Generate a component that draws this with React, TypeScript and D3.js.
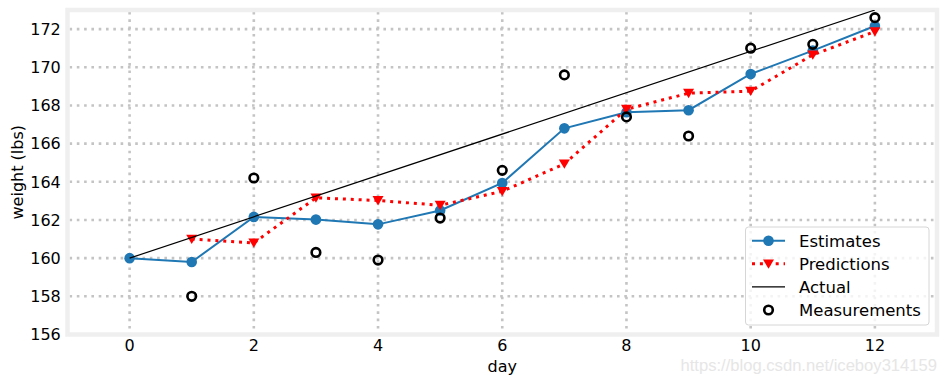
import React from "react";
import * as d3 from "d3";

const days: number[] = [0, 1, 2, 3, 4, 5, 6, 7, 8, 9, 10, 11, 12];
const estimates: number[] = [160, 159.8, 162.16, 162.02, 161.77, 162.5, 163.94, 166.8, 167.64, 167.75, 169.65, 170.87, 172.16];
const predictionDays: number[] = [1, 2, 3, 4, 5, 6, 7, 8, 9, 10, 11, 12];
const predictions: number[] = [161, 160.8, 163.16, 163.02, 162.77, 163.5, 164.94, 167.8, 168.64, 168.75, 170.65, 171.87];
const measurementDays: number[] = [1, 2, 3, 4, 5, 6, 7, 8, 9, 10, 11, 12];
const measurements: number[] = [158.0, 164.2, 160.3, 159.9, 162.1, 164.6, 169.6, 167.4, 166.4, 171.0, 171.2, 172.6];
const actualDays: number[] = [0, 12];
const actual: number[] = [160, 173];
const xTicks: number[] = [0, 2, 4, 6, 8, 10, 12];
const yTicks: number[] = [156, 158, 160, 162, 164, 166, 168, 170, 172];
const legendLabels: string[] = ["Estimates", "Predictions", "Actual", "Measurements"];

const W = 947;
const H = 384;
const L = 67.5, R = 937, T = 10, B = 334.5;
const FONT = "DejaVu Sans, sans-serif";
const BLUE = "#1f77b4";

export default function App() {
  const x = d3.scaleLinear().domain([-1, 13]).range([L, R]);
  const y = d3.scaleLinear().domain([156, 173]).range([B, T]);
  const line = d3.line<[number, number]>().x(d => x(d[0])).y(d => y(d[1]));
  const estPts = days.map((d, i) => [d, estimates[i]] as [number, number]);
  const predPts = predictionDays.map((d, i) => [d, predictions[i]] as [number, number]);
  const actPts = actualDays.map((d, i) => [d, actual[i]] as [number, number]);
  const tri = (cx: number, cy: number, s = 5.5) =>
    `M${cx - s},${cy - s * 0.8}L${cx + s},${cy - s * 0.8}L${cx},${cy + s * 0.9}Z`;

  const lgX = 745.5, lgY = 227, lgW = 183.5, lgH = 98;
  const rowY = (i: number) => 240.7 + i * 23.1;

  return (
    <svg width={W} height={H} style={{ position: "absolute", left: 0, top: 0, display: "block" }}>
      <defs>
        <clipPath id="plotclip">
          <rect x={L} y={T} width={R - L} height={B - T} />
        </clipPath>
      </defs>
      <rect x={0} y={0} width={W} height={H} fill="#ffffff" />
      <rect x={L} y={T} width={R - L} height={B - T} fill="#ffffff" />
      {/* grid */}
      <g stroke="#c4c4c4" strokeWidth={2.6} strokeDasharray="2.6,4.7">
        {yTicks.map(t => (
          <line key={"gy" + t} x1={L + 2} x2={R - 2} y1={y(t)} y2={y(t)} />
        ))}
        {xTicks.map(t => (
          <line key={"gx" + t} x1={x(t)} x2={x(t)} y1={T + 2} y2={B - 2} />
        ))}
      </g>
      {/* frame */}
      <rect x={L} y={T} width={R - L} height={B - T} fill="none" stroke="#efefef" strokeWidth={4.5} />
      {/* tick labels */}
      <g fontFamily={FONT} fontSize={16} fill="#000">
        {yTicks.map(t => (
          <text key={"ty" + t} x={60.8} y={y(t)} dy="0.36em" textAnchor="end">{t}</text>
        ))}
        {xTicks.map(t => (
          <text key={"tx" + t} x={x(t)} y={351} textAnchor="middle">{t}</text>
        ))}
      </g>
      <text x={x(6)} y={371.5} textAnchor="middle" fontFamily={FONT} fontSize={16}>day</text>
      <text transform={`translate(22.5,${(T + B) / 2}) rotate(-90)`} textAnchor="middle" fontFamily={FONT} fontSize={16}>weight (lbs)</text>

      <g clipPath="url(#plotclip)">
        {/* estimates */}
        <path d={line(estPts) || ""} fill="none" stroke={BLUE} strokeWidth={2} />
        {estPts.map((p, i) => (
          <circle key={"e" + i} cx={x(p[0])} cy={y(p[1])} r={5.3} fill={BLUE} />
        ))}
        {/* predictions */}
        <path d={line(predPts) || ""} fill="none" stroke="#ff0000" strokeWidth={3} strokeDasharray="3,4.9" />
        {predPts.map((p, i) => (
          <path key={"p" + i} d={tri(x(p[0]), y(p[1]))} fill="#ff0000" />
        ))}
        {/* actual */}
        <path d={line(actPts) || ""} fill="none" stroke="#000" strokeWidth={1.2} />
        {/* measurements */}
        {measurementDays.map((d, i) => (
          <circle key={"m" + i} cx={x(d)} cy={y(measurements[i])} r={4.3} fill="none" stroke="#000" strokeWidth={2.6} />
        ))}
      </g>

      {/* legend */}
      <rect x={lgX} y={lgY} width={lgW} height={lgH} rx={3} fill="#ffffff" fillOpacity={0.8} stroke="#d6d6d6" strokeWidth={1} />
      <g>
        <line x1={752} x2={785} y1={rowY(0)} y2={rowY(0)} stroke={BLUE} strokeWidth={2} />
        <circle cx={768.5} cy={rowY(0)} r={5.3} fill={BLUE} />
        <line x1={752} x2={785} y1={rowY(1)} y2={rowY(1)} stroke="#ff0000" strokeWidth={3} strokeDasharray="3,4.9" />
        <path d={tri(768.5, rowY(1))} fill="#ff0000" />
        <line x1={752} x2={785} y1={rowY(2)} y2={rowY(2)} stroke="#000" strokeWidth={1.2} />
        <circle cx={768.5} cy={rowY(3)} r={4.3} fill="none" stroke="#000" strokeWidth={2.6} />
      </g>
      <g fontFamily={FONT} fontSize={16.5} fill="#000">
        {legendLabels.map((s, i) => (
          <text key={s} x={799} y={rowY(i)} dy="0.36em">{s}</text>
        ))}
      </g>
      {/* watermark */}
      <text x={937} y={370.5} textAnchor="end" fontFamily="Liberation Sans, Arial, sans-serif" fontSize={16.6} fill="#e6e6e6">https://blog.csdn.net/iceboy314159</text>
    </svg>
  );
}
